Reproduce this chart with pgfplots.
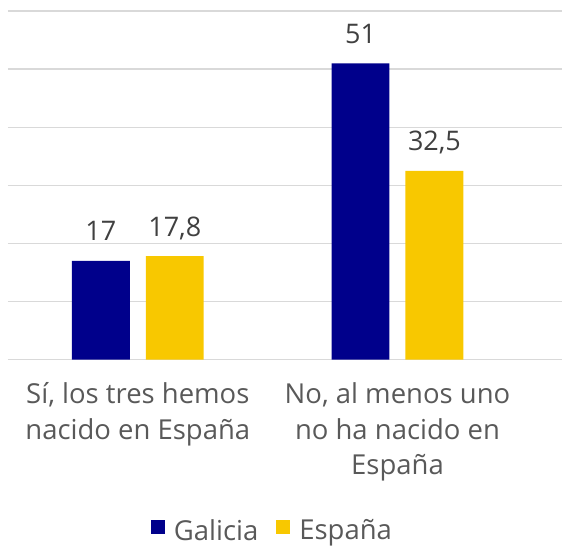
\documentclass[border=0pt]{standalone}
\usepackage{fontspec}
\setmainfont{Open Sans}
\usepackage{pgfplots}
\pgfplotsset{compat=1.18}
\definecolor{gal}{RGB}{0,0,139}
\definecolor{esp}{RGB}{248,200,0}
\definecolor{gridc}{RGB}{217,217,217}
\definecolor{txt}{RGB}{64,64,64}
\definecolor{lab}{RGB}{89,89,89}
\pgfplotstableread{
x y lbl
0 17 17
1 51 51
}\galicia
\pgfplotstableread{
x y lbl
0 17.8 17,8
1 32.5 32,5
}\espana
\begin{document}
\begin{tikzpicture}
\begin{axis}[
 at={(0,0)}, anchor=south west,
 scale only axis, width=555pt, height=349pt,
 xmin=-0.5, xmax=1.635, ymin=0, ymax=60,
 ytick={0,10,...,60}, yticklabels={},
 ymajorgrids, grid style={gridc, line width=1.3pt},
 axis line style={draw=none}, major tick length=0pt,
 xtick={0,1},
 xticklabels={{Sí, los tres hemos\\nacido en España},{No, al menos uno\\no ha nacido en\\España}},
 xticklabel style={align=center, font=\fontsize{27.5}{35.5}\selectfont, text=lab, anchor=north, inner sep=0pt, yshift=-23pt},
 ybar=16pt, bar width=58pt,
 nodes near coords, point meta=explicit symbolic,
 nodes near coords style={font=\fontsize{27}{31}\selectfont, text=txt, anchor=base, inner sep=0pt, yshift=20pt},
 legend columns=2,
 legend style={at={(axis description cs:0.477,-0.49)}, anchor=center, draw=none, fill=none,
   font=\fontsize{27.5}{31}\selectfont, text=lab,
   /tikz/every even column/.append style={column sep=16pt}},
 legend image code/.code={\fill[#1] (0pt,-4pt) rectangle (14pt,10pt); \path (21pt,0pt);},
]
\addplot[fill=gal, draw=none] table[x=x, y=y, meta=lbl] {\galicia};
\addplot[fill=esp, draw=none] table[x=x, y=y, meta=lbl] {\espana};
\legend{Galicia, España}
\end{axis}
\path (-8pt,-182pt) rectangle (555pt,360pt);
\end{tikzpicture}
\end{document}
